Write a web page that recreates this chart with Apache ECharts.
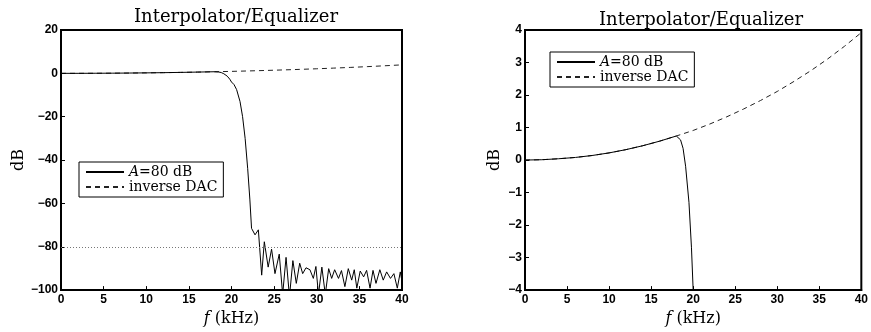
<!DOCTYPE html>
<html>
<head>
<meta charset="utf-8">
<script src="https://cdn.jsdelivr.net/npm/echarts@6/dist/echarts.min.js"></script>
<style>
html,body{margin:0;padding:0;background:#fff;}
#chart{width:871px;height:332px;}
</style>
</head>
<body>
<div id="chart"></div>
<script>
// ---- data ----
const titleText = 'Interpolator/Equalizer';
const seriesNames = ['A=80 dB', 'inverse DAC'];

// inverse DAC response (dB) vs frequency (kHz)
const dacFreq = [0, 2, 4, 6, 8, 10, 12, 14, 16, 18, 20, 22, 24, 26, 28, 30, 32, 34, 36, 38, 40];
const dacGain = [0, 0.01, 0.04, 0.08, 0.14, 0.22, 0.32, 0.44, 0.58, 0.74, 0.91, 1.11, 1.33, 1.57, 1.83, 2.11, 2.42, 2.75, 3.11, 3.50, 3.92];

// equalized interpolator response, A = 80 dB (dB) vs frequency (kHz)
const filterFreq = [0, 2, 4, 6, 8, 10, 12, 14, 16, 17, 18, 18.2, 18.5, 18.8, 19.1, 19.5, 19.8, 20.0, 20.3, 20.6, 21.0, 21.3, 21.6, 21.9, 22.15, 22.35,
  22.76, 23.15, 23.54, 23.85, 24.3, 24.7, 25.1, 25.6, 26.0, 26.4, 26.8, 27.2, 27.6, 28.0, 28.35, 28.74, 29.2, 29.6, 29.9, 30.2, 30.6, 31.0, 31.4,
  31.75, 32.1, 32.55, 32.9, 33.3, 33.7, 34.1, 34.4, 34.7, 35.1, 35.5, 35.85, 36.25, 36.6, 36.95, 37.4, 37.8, 38.2, 38.65, 39.05, 39.45, 39.8, 40];
const filterGain = [0, 0.01, 0.04, 0.08, 0.14, 0.22, 0.32, 0.44, 0.58, 0.66, 0.74, 0.755, 0.62, 0.36, -0.19, -1.3, -2.7, -4.0, -5.2, -7.5, -13, -20, -30, -44, -58, -71.5,
  -74.5, -72.2, -93.1, -77.7, -89.4, -81.1, -92.4, -83.4, -102, -84.9, -103, -86.4, -96.9, -87.6, -92.4, -89.7, -90.6, -94.6, -89.1, -102, -89.4, -102, -90.1,
  -94.6, -90.6, -94.6, -91.0, -98.4, -90.1, -95.4, -90.6, -99.1, -91.2, -93.9, -90.9, -99.1, -90.9, -96.9, -90.6, -95.4, -91.6, -94.6, -92.4, -99.1, -91.6, -96];

const attenuationLevel = -80;
const xTicks = {min: 0, max: 40, step: 5};
const yTicksLeft = {min: -100, max: 20, step: 20};
const yTicksRight = {min: -4, max: 4, step: 1};

// ---- chart ----
const pairs = (xs, ys) => xs.map((x, i) => [x, ys[i]]);
const dacData = pairs(dacFreq, dacGain);
const filterData = pairs(filterFreq, filterGain);

const SERIF = 'DejaVu Serif';
const SANS = 'Liberation Sans';
const minusFmt = v => String(v).replace('-', '\u2212');

function xAxis(gi) {
  return {
    type: 'value', gridIndex: gi, min: xTicks.min, max: xTicks.max, interval: xTicks.step,
    name: '{it|f} (kHz)', nameLocation: 'middle', nameGap: 18,
    nameTextStyle: {fontFamily: SERIF, fontSize: 16, color: '#000', rich: {it: {fontFamily: SERIF, fontStyle: 'italic', fontSize: 16, color: '#000'}}},
    axisLine: {show: true, onZero: false, lineStyle: {color: '#000', width: 2}},
    axisTick: {show: true, inside: true, length: 4, lineStyle: {color: '#000', width: 1}},
    axisLabel: {fontFamily: SANS, fontWeight: 'bold', fontSize: 12, color: '#000', margin: 4, formatter: minusFmt},
    splitLine: {show: false}
  };
}
function yAxis(gi, t, gap) {
  return {
    type: 'value', gridIndex: gi, min: t.min, max: t.max, interval: t.step,
    name: 'dB', nameLocation: 'middle', nameGap: gap,
    nameTextStyle: {fontFamily: SERIF, fontSize: 16, color: '#000'},
    axisLine: {show: true, onZero: false, lineStyle: {color: '#000', width: 2}},
    axisTick: {show: true, inside: true, length: 4, lineStyle: {color: '#000', width: 1}},
    axisLabel: {fontFamily: SANS, fontWeight: 'bold', fontSize: 12, color: '#000', margin: 3, formatter: minusFmt},
    splitLine: {show: false}
  };
}
function legend(left, top) {
  return {
    left: left, top: top, orient: 'vertical', data: seriesNames,
    itemWidth: 38, itemHeight: 14, itemGap: 1, padding: [3, 6, 3, 6],
    backgroundColor: '#fff', borderColor: '#000', borderWidth: 1, borderRadius: 0,
    selectedMode: false,
    itemStyle: {color: 'transparent', borderColor: 'transparent', borderWidth: 0},
    formatter: n => n === seriesNames[0] ? '{it|A}=80 dB' : n,
    textStyle: {fontFamily: SERIF, fontSize: 14, color: '#000', rich: {it: {fontFamily: SERIF, fontStyle: 'italic', fontSize: 14, color: '#000'}}}
  };
}
const solidStyle = {color: '#000', width: 1};
const dashStyle = {color: '#222', width: 1, type: [5, 4]};

const option = {
  animation: false,
  backgroundColor: '#fff',
  title: [
    {text: titleText, left: 231, top: 3, textAlign: 'center', textStyle: {fontFamily: SERIF, fontSize: 18, fontWeight: 'normal', color: '#000'}},
    {text: titleText, left: 696, top: 6, textAlign: 'center', textStyle: {fontFamily: SERIF, fontSize: 18, fontWeight: 'normal', color: '#000'}}
  ],
  grid: [
    {left: 61, right: 469, top: 30, bottom: 35, show: true, borderColor: '#000', borderWidth: 2, backgroundColor: 'transparent'},
    {left: 525, right: 4, top: 30, bottom: 35, show: true, borderColor: '#000', borderWidth: 2, backgroundColor: 'transparent'}
  ],
  xAxis: [xAxis(0), xAxis(1)],
  yAxis: [yAxis(0, yTicksLeft, 33), yAxis(1, yTicksRight, 22)],
  legend: [legend(79, 162), legend(550, 52)],
  series: [
    {name: seriesNames[1], type: 'line', xAxisIndex: 0, yAxisIndex: 0, data: dacData, symbol: 'none', lineStyle: dashStyle, itemStyle: {color: '#222'}, z: 2},
    {name: seriesNames[0], type: 'line', xAxisIndex: 0, yAxisIndex: 0, data: filterData, symbol: 'none', lineStyle: solidStyle, itemStyle: {color: '#000'}, z: 3,
      markLine: {silent: true, symbol: 'none', label: {show: false}, lineStyle: {color: '#777', width: 1, type: [1, 2]}, data: [{yAxis: attenuationLevel}]}},
    {name: seriesNames[1], type: 'line', xAxisIndex: 1, yAxisIndex: 1, data: dacData, symbol: 'none', lineStyle: dashStyle, itemStyle: {color: '#222'}, z: 2},
    {name: seriesNames[0], type: 'line', xAxisIndex: 1, yAxisIndex: 1, data: filterData, symbol: 'none', lineStyle: solidStyle, itemStyle: {color: '#000'}, z: 3}
  ]
};
const chart = echarts.init(document.getElementById('chart'), null, {renderer: 'canvas'});
chart.setOption(option);
</script>
</body>
</html>
